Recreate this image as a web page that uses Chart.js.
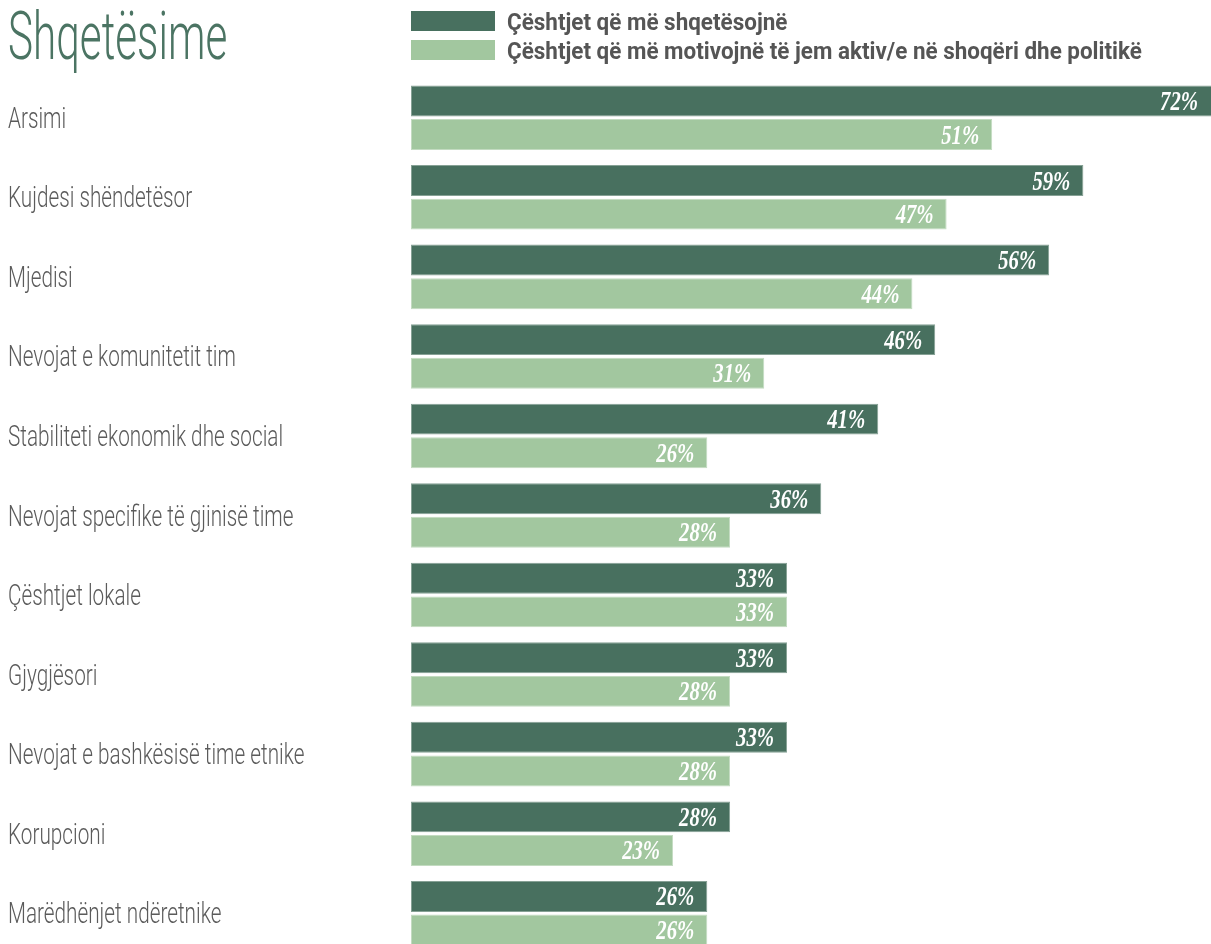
<!DOCTYPE html>
<html>
<head>
<meta charset="utf-8">
<script src="https://cdn.jsdelivr.net/npm/chart.js@4.4.1/dist/chart.umd.min.js"></script>
<style>
  html, body { margin: 0; padding: 0; background: #fff; overflow: hidden; }
  #wrap { position: relative; width: 1211px; height: 960px; }
</style>
</head>
<body>
<div id="wrap"><canvas id="myChart"></canvas></div>
<script>
const categories = [
  'Arsimi',
  'Kujdesi shëndetësor',
  'Mjedisi',
  'Nevojat e komunitetit tim',
  'Stabiliteti ekonomik dhe social',
  'Nevojat specifike të gjinisë time',
  'Çështjet lokale',
  'Gjygjësori',
  'Nevojat e bashkësisë time etnike',
  'Korupcioni',
  'Marëdhënjet ndëretnike'
];
const concerns = [72, 59, 56, 46, 41, 36, 33, 33, 33, 28, 26];
const motivators = [51, 47, 44, 31, 26, 28, 33, 28, 28, 23, 26];
const seriesNames = [
  'Çështjet që më shqetësojnë',
  'Çështjet që më motivojnë të jem aktiv/e në shoqëri dhe politikë'
];
const chartTitle = 'Shqetësime';

const darkGreen = '#48705f';
const lightGreen = '#a2c79f';

// canvas has no condensed faces here, so squeeze the text horizontally
function condText(ctx, text, x, y, font, color, sx, align) {
  ctx.save();
  ctx.font = font;
  ctx.fillStyle = color;
  ctx.textAlign = align || 'left';
  ctx.textBaseline = 'alphabetic';
  ctx.translate(x, y);
  ctx.scale(sx, 1);
  ctx.fillText(text, 0, 0);
  ctx.restore();
}

const decorations = {
  id: 'decorations',
  afterDatasetsDraw(chart) {
    const ctx = chart.ctx;
    const right = chart.chartArea.right;
    chart.data.datasets.forEach(function (ds, d) {
      chart.getDatasetMeta(d).data.forEach(function (bar, i) {
        const xEnd = Math.min(bar.x, right);
        condText(ctx, ds.data[i] + '%', xEnd - 13, bar.y + 9,
          'italic bold 28px "Liberation Serif"', '#ffffff', 0.74, 'right');
      });
    });
  },
  afterDraw(chart) {
    const ctx = chart.ctx;
    const yScale = chart.scales.y;

    condText(ctx, chartTitle, 8, 59, '300 66px Roboto', '#4b7463', 0.64);

    chart.data.labels.forEach(function (label, i) {
      const y = yScale.getPixelForValue(i);
      condText(ctx, label, 8, y + 10, '300 29px Roboto', '#5b5b5b', 0.715);
    });

    chart.data.datasets.forEach(function (ds, d) {
      const top = 11 + d * 29;
      ctx.fillStyle = ds.backgroundColor;
      ctx.fillRect(chart.chartArea.left, top, 84, 20);
      condText(ctx, ds.label, 507, top + 19, 'bold 24px Roboto', '#555555', 0.935);
    });
  }
};

const ctx = document.getElementById('myChart').getContext('2d');
const chart = new Chart(ctx, {
  type: 'bar',
  data: {
    labels: categories,
    datasets: [{
      label: seriesNames[0],
      data: concerns,
      backgroundColor: darkGreen,
      borderColor: '#86a195',
      borderWidth: 1,
      borderSkipped: false
    }, {
      label: seriesNames[1],
      data: motivators,
      backgroundColor: lightGreen,
      borderColor: '#c3dbc1',
      borderWidth: 1,
      borderSkipped: false
    }]
  },
  options: {
    indexAxis: 'y',
    responsive: true,
    maintainAspectRatio: false,
    animation: false,
    layout: {
      padding: { left: 411, right: 0, top: 78, bottom: 7 }
    },
    datasets: {
      bar: {
        categoryPercentage: 0.845,
        barPercentage: 0.92
      }
    },
    scales: {
      x: { display: false, min: 0, max: 70.2 },
      y: { display: false }
    },
    plugins: {
      legend: { display: false },
      title: { display: false },
      tooltip: { enabled: false }
    }
  },
  plugins: [decorations]
});
</script>
</body>
</html>
